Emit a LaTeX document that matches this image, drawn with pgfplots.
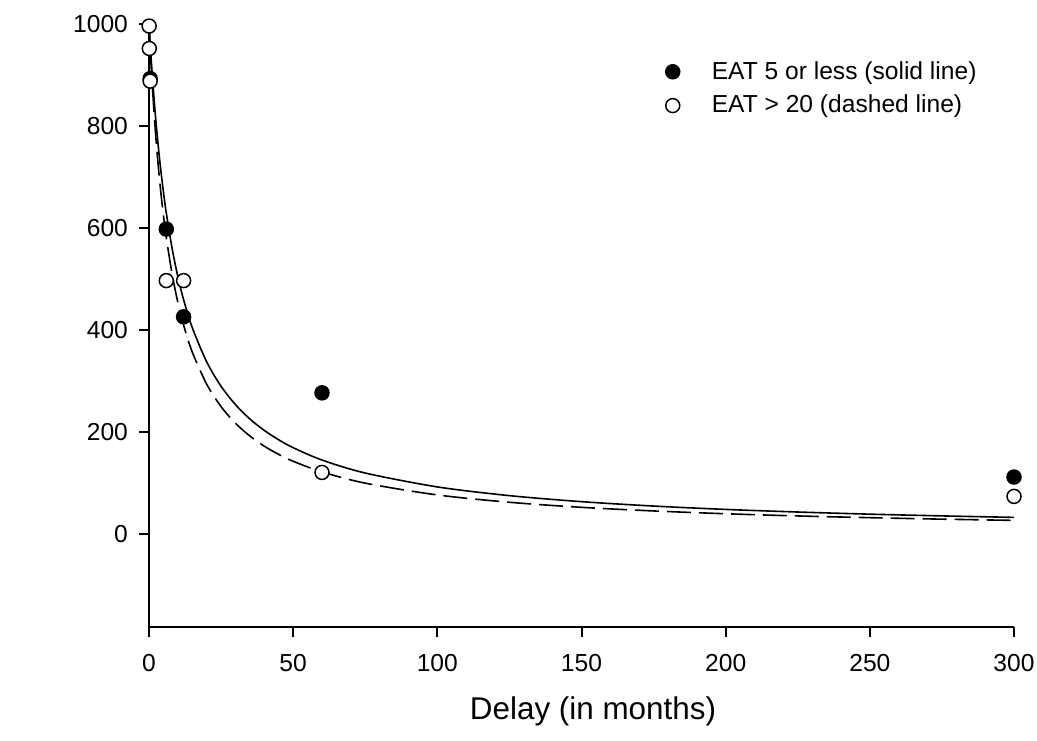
\documentclass[border=0pt]{standalone}
\usepackage{pgfplots}
\pgfplotsset{compat=1.18}
\usepackage{fontspec}
\setmainfont{Liberation Sans}

\begin{document}
\begin{tikzpicture}
\begin{axis}[
  name=ax, at={(0,0)}, anchor=south west,
  scale only axis, width=432.5pt, height=301.5pt,
  xmin=0, xmax=300, ymin=-182, ymax=1000,
  axis x line*=bottom, axis y line*=left,
  axis line style={-, line width=1pt},
  xtick={0,50,...,300}, ytick={0,200,...,1000},
  tick align=outside, major tick length=5pt,
  tick style={black, line width=1pt},
  ticklabel style={font=\fontsize{12.3}{15}\selectfont},
  xticklabel style={yshift=-5pt},
  yticklabel style={xshift=-2pt},
  /pgf/number format/assume math mode=true,
  /pgf/number format/set thousands separator={},
  xlabel={Delay (in months)},
  xlabel style={font=\fontsize{15.7}{18}\selectfont, yshift=-6pt, xshift=5.75pt},
  legend style={draw=none, fill=none, at={(0.59,0.952)}, anchor=north west,
    font=\fontsize{12.3}{14.5}\selectfont, row sep=2.5pt},
  legend cell align=left,
]
% fitted curves
\addplot[forget plot, black, line width=0.8pt, smooth, tension=0.5] coordinates {
  (0,1000) (0.5,953.3) (1,910.7) (2,836.1) (3,772.8) (4,718.4) (5,671.1)
  (6,629.7) (8,560.5) (10,505.1) (12,459.6) (15,404.9) (20,337.8) (25,289.9)
  (30,253.8) (35,225.7) (40,203.3) (45,184.9) (50,169.5) (60,145.3) (75,119.8)
  (100,92.6) (125,75.5) (150,63.7) (175,55.1) (200,48.5) (225,43.4) (250,39.2)
  (275,35.8) (300,32.9)
};
\addplot[forget plot, black, line width=0.8pt, smooth, tension=0.5,
  dash pattern=on 12pt off 4pt] coordinates {
  (0,1000) (0.5,943.4) (1,892.9) (2,806.5) (3,735.3) (4,675.7) (5,625)
  (6,581.4) (8,510.2) (10,454.5) (12,409.8) (15,357.1) (20,294.1) (25,250)
  (30,217.4) (35,192.3) (40,172.4) (45,156.3) (50,142.9) (60,122) (75,100)
  (100,76.9) (125,62.5) (150,52.6) (175,45.5) (200,40) (225,35.7) (250,32.3)
  (275,29.4) (300,27)
};
% observed points
\addplot[only marks, mark=*, mark size=3.5pt,
  mark options={draw=black, fill=black, line width=0.75pt}] coordinates {
  (0.4,893) (6,598) (12,426) (60,277) (300,112)
};
\addlegendentry{\hspace*{14pt}EAT 5 or less (solid line)}
\addplot[only marks, mark=*, mark size=3.5pt,
  mark options={draw=black, fill=white, line width=0.75pt}] coordinates {
  (0.05,996) (0.1,952) (0.4,888) (6,497) (12,497) (60,121) (300,74)
};
\addlegendentry{\hspace*{14pt}EAT > 20 (dashed line)}
\end{axis}
\pgfresetboundingbox
\path (ax.south west) ++(-74.5pt,-56.5pt) rectangle ++(518.5pt,370pt);
\end{tikzpicture}
\end{document}
